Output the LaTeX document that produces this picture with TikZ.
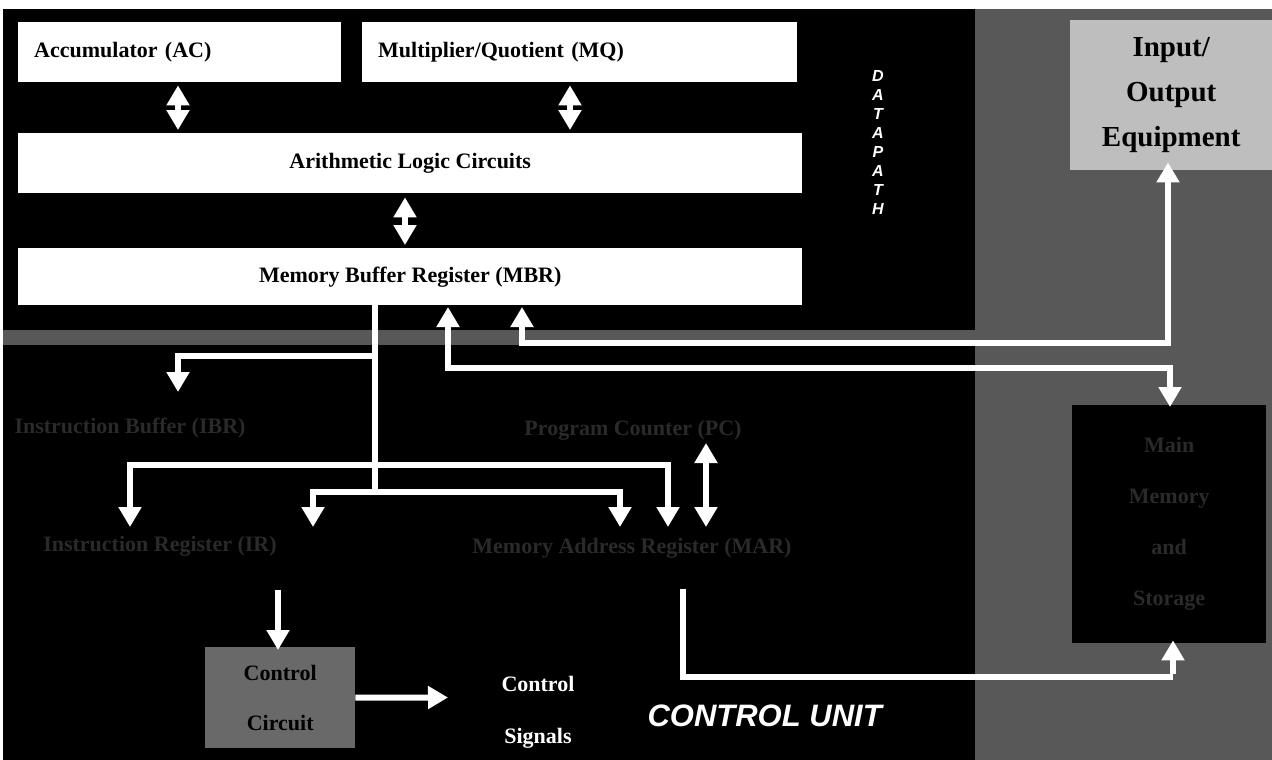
\documentclass[tikz,border=0pt]{standalone}
\usepackage{fontspec}
\setmainfont{Liberation Serif}
\newfontfamily\arialfont{Liberation Sans}
\usetikzlibrary{arrows.meta}
\definecolor{dimgray}{RGB}{88,88,88}
\definecolor{iogray}{RGB}{190,190,190}
\definecolor{faint}{RGB}{42,42,42}
\definecolor{ccgray}{RGB}{105,105,105}
\tikzset{
  wbox/.style={fill=white, draw=none, text=black, font=\bfseries\fontsize{22}{26}\selectfont},
  lbox/.style={wbox, text width=#1, align=left, inner xsep=16pt, inner ysep=0pt},
  faintlbl/.style={text=faint, font=\bfseries\fontsize{22}{26}\selectfont},
  wire/.style={draw=white, line width=6pt},
  arr/.style={wire, -{Triangle[width=22pt,length=20pt]}},
  darr/.style={wire, {Triangle[width=22pt,length=20pt]}-{Triangle[width=22pt,length=20pt]}},
}
\begin{document}
\begin{tikzpicture}[x=1pt,y=-1pt]
\useasboundingbox (0,0) rectangle (1272,760);
% backgrounds
\fill[white] (0,0) rectangle (1272,760);
\fill[black] (3,9) rectangle (975,760);
\fill[dimgray] (975,9) rectangle (1272,760);
\fill[dimgray] (3,330) rectangle (975,345);

% datapath boxes
\node[lbox=291pt, minimum width=323pt, minimum height=60pt, anchor=north west] (ac) at (18,22) {Accumulator (AC)};
\node[lbox=403pt, minimum width=435pt, minimum height=60pt, anchor=north west] (mq) at (362,22) {Multiplier/Quotient (MQ)};
\node[wbox, minimum width=784pt, minimum height=60pt, anchor=north west] (alc) at (18,133) {Arithmetic Logic Circuits};
\node[wbox, minimum width=784pt, minimum height=57pt, anchor=north west] (mbr) at (18,248) {Memory Buffer Register (MBR)};

\node[text=white, align=center, font=\arialfont\bfseries\itshape\fontsize{16}{19}\selectfont] (dp) at (878,142) {D\\A\\T\\A\\P\\A\\T\\H};

% I/O and memory
\node[fill=iogray, anchor=north west, minimum width=202pt, minimum height=150pt, align=center, inner sep=0pt,
      font=\bfseries\fontsize{29}{45}\selectfont] (io) at (1070,20) {Input/\\Output\\Equipment};
\node[fill=black, anchor=north west, minimum width=194pt, minimum height=238pt, align=center,
      text=faint, font=\bfseries\fontsize{22}{51}\selectfont] (mem) at (1072,405) {Main\\Memory\\and\\Storage};

% control unit labels
\node[faintlbl] (ibr) at (130,428) {Instruction Buffer (IBR)};
\node[faintlbl] (pc) at (633,430) {Program Counter (PC)};
\node[faintlbl] (ir) at (160,546) {Instruction Register (IR)};
\node[faintlbl] (mar) at (632,548) {Memory Address Register (MAR)};
\node[fill=ccgray, anchor=north west, minimum width=150pt, minimum height=101pt, align=center,
      text=black, font=\bfseries\fontsize{22}{50}\selectfont] (cc) at (205,647) {Control\\Circuit};
\node[text=white, align=center, font=\bfseries\fontsize{22}{52}\selectfont] (sig) at (538,712) {Control\\Signals};
\node[text=white, anchor=west, font=\arialfont\bfseries\itshape\fontsize{31}{36}\selectfont] (cu) at (644,716) {CONTROL UNIT};

% datapath arrows
\coordinate (xa) at (178,0);
\coordinate (xm) at (570,0);
\coordinate (xl) at (405,0);
\draw[darr] ([yshift=-3pt]ac.south -| xa) -- ([yshift=3pt]alc.north -| xa);
\draw[darr] ([yshift=-3pt]mq.south -| xm) -- ([yshift=3pt]alc.north -| xm);
\draw[darr] ([yshift=-4pt]alc.south -| xl) -- ([yshift=3pt]mbr.north -| xl);

% control unit wiring
\coordinate (t) at (375,0);
\coordinate (j1) at (375,356);
\coordinate (j2) at (375,465);
\coordinate (j3) at (375,492);
\coordinate (ibrTip) at (178,392);
\coordinate (irTipA) at (130,527);
\coordinate (irTipB) at (313,527);
\coordinate (marTipA) at (620,527);
\coordinate (marTipB) at (668,527);
\coordinate (marTipC) at (706,527);
\coordinate (pcTip) at (706,443);
\draw[wire] (mbr.south -| t) -- (j3);
\draw[arr] (j1) -| (ibrTip);
\draw[darr] (irTipA) |- (j2) -| (marTipB);
\draw[darr] (irTipB) |- (j3) -| (marTipA);
\draw[darr] (pcTip) -- (marTipC);

% MBR to I/O and memory
\coordinate (mbrIO) at (522,307);
\coordinate (mbrM) at (448,307);
\coordinate (c1) at (1168,343);
\coordinate (c2) at (1170,368);
\draw[darr] (mbrIO) |- (c1) -- ([yshift=8pt]io.south -| c1);
\draw[darr] (mbrM) |- (c2) -- ([yshift=-2pt]mem.north -| c2);

% MAR to memory
\coordinate (marBot) at (683,589);
\coordinate (c3) at (1173,677);
\draw[wire] (marBot) |- (c3);
\draw[arr] ([yshift=3pt]c3) -- ([yshift=3pt]mem.south -| c3);

% IR to control circuit, control signals
\coordinate (irBot) at (278,590);
\coordinate (sigTip) at (448,697.5);
\draw[arr] (irBot) -- ([yshift=-3pt]cc.north -| irBot);
\draw[arr] (cc.east) -- (sigTip);
\end{tikzpicture}
\end{document}
